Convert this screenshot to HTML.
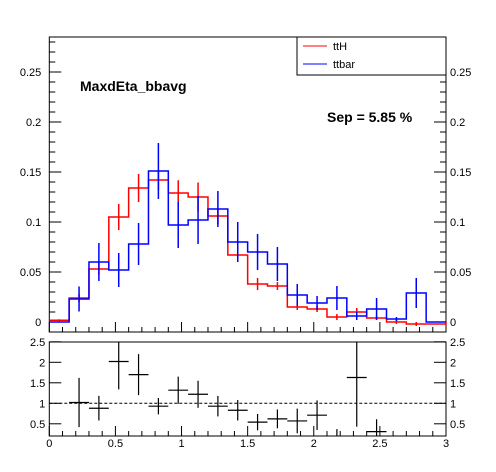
<!DOCTYPE html>
<html><head><meta charset="utf-8"><style>
body{margin:0;background:#fff;}
svg{display:block;font-family:"Liberation Sans",Arial,sans-serif;}
</style></head><body>
<svg id="c" width="496" height="472"></svg>
<script>
const binEdges0 = 0, binWidth = 0.15;
const ttH = [0.0017,0.024,0.053,0.105,0.134,0.142,0.129,0.125,0.106,0.067,0.038,0.036,0.015,0.013,0.005,0.010,0.004,0.0,-0.002,-0.002];
const ttHErr = [0.001,0.004,0.006,0.013,0.014,0.01,0.0127,0.0145,0.008,0.006,0.006,0.004,0.003,0.003,0.003,0.004,0.002,0.002,0.002,0];
const ttbar = [0.0,0.023,0.060,0.052,0.078,0.151,0.097,0.102,0.113,0.080,0.070,0.058,0.027,0.019,0.024,0.006,0.013,0.003,0.029,0.0];
const ttbarErr = [0,0.0125,0.019,0.017,0.021,0.028,0.023,0.024,0.018,0.02,0.018,0.017,0.011,0.007,0.012,0.004,0.011,0.002,0.015,0];
const ratio = [null,1.02,0.88,2.02,1.70,0.93,1.32,1.22,0.93,0.83,0.54,0.62,0.57,0.71,0.2,1.63,0.31,null,null,null];
const ratioErr = [0,0.6,0.3,0.68,0.5,0.2,0.33,0.33,0.25,0.25,0.2,0.23,0.3,0.36,0.17,1.2,0.3,0,0,0];
const yTicks = [0,0.05,0.1,0.15,0.2,0.25];
const yTickLabels = ["0","0.05","0.1","0.15","0.2","0.25"];
const rTicks = [0.5,1,1.5,2,2.5];
const rTickLabels = ["0.5","1","1.5","2","2.5"];
const xTicks = [0,0.5,1,1.5,2,2.5,3];
const xTickLabels = ["0","0.5","1","1.5","2","2.5","3"];

const NS="http://www.w3.org/2000/svg", svg=document.getElementById('c');
function mk(t,a,p){const e=document.createElementNS(NS,t);for(const k in a)e.setAttribute(k,a[k]);(p||svg).appendChild(e);return e;}
const X0=49.3,X1=446,YT=37,YB=332,RT=342,RB=436;
const sx=v=>X0+(X1-X0)*v/3;
const sy=v=>322-1000*v;
const ry=v=>403.3-41*(v-1);

let f=mk('rect',{x:X0,y:YT,width:X1-X0,height:YB-YT,fill:'none',stroke:'#000','stroke-width':1});

f=mk('rect',{x:X0,y:RT,width:X1-X0,height:RB-RT,fill:'none',stroke:'#000','stroke-width':1});


for(let v=-0.01;v<=0.285;v+=0.01){const y=sy(v),maj=Math.abs(Math.round(v*100)%5)===0;const l=maj?12:6;
 mk('line',{x1:X0,x2:X0+l,y1:y,y2:y,stroke:'#000'});mk('line',{x1:X1,x2:X1-l,y1:y,y2:y,stroke:'#000'});}
yTicks.forEach((v,i)=>{let t=mk('text',{x:X0-8,y:sy(v)+4,'font-size':11,'text-anchor':'end'});t.textContent=yTickLabels[i];
 
 t=mk('text',{x:X1+4,y:sy(v)+4,'font-size':11});t.textContent=yTickLabels[i];
 });
for(let i=0;i<=30;i++){const v=i/10,x=sx(v),maj=i%5===0,l=maj?10:5;
 mk('line',{x1:x,x2:x,y1:YB,y2:YB-l,stroke:'#000'});mk('line',{x1:x,x2:x,y1:RB,y2:RB-l,stroke:'#000'});}
xTicks.forEach((v,i)=>{const t=mk('text',{x:sx(v),y:RB+11,'font-size':11,'text-anchor':'middle'});t.textContent=xTickLabels[i];
 });
for(let v=0.3;v<=2.5001;v+=0.1){const y=ry(v),maj=Math.abs(Math.round(v*10)%5)===0;if(!maj)continue;
 mk('line',{x1:X0,x2:X0+12,y1:y,y2:y,stroke:'#000'});mk('line',{x1:X1,x2:X1-12,y1:y,y2:y,stroke:'#000'});}
rTicks.forEach((v,i)=>{let t=mk('text',{x:X0-4,y:ry(v)+4,'font-size':11,'text-anchor':'end'});t.textContent=rTickLabels[i];
 
 t=mk('text',{x:X1+4,y:ry(v)+4,'font-size':11});t.textContent=rTickLabels[i];
 });

function hist(vals,errs,col,name){
 let d='';vals.forEach((v,i)=>{const xa=sx(i*binWidth),xb=sx((i+1)*binWidth),y=sy(v);d+=(i?'L':'M')+xa+','+y+'L'+xb+','+y;});
 d+='L'+sx(3)+','+sy(0);
 const p=mk('path',{d:d,fill:'none',stroke:col,'stroke-width':1.5});
 
 vals.forEach((v,i)=>{if(!errs[i])return;const xc=sx((i+0.5)*binWidth);
  const e=mk('line',{x1:xc,x2:xc,y1:sy(v-errs[i]),y2:sy(v+errs[i]),stroke:col,'stroke-width':1.5});
  });
}
hist(ttH,ttHErr,'#f00','tth');
hist(ttbar,ttbarErr,'#00f','ttbar');

const cp=mk('clipPath',{id:'rc'});mk('rect',{x:X0,y:RT,width:X1-X0,height:RB-RT},cp);
const g=mk('g',{'clip-path':'url(#rc)'});
const dl=mk('line',{x1:X0,x2:X1,y1:ry(1),y2:ry(1),stroke:'#000','stroke-dasharray':'3,2'});

ratio.forEach((v,i)=>{if(v===null)return;const xa=sx(i*binWidth),xb=sx((i+1)*binWidth),xc=(xa+xb)/2;
 const h=mk('line',{x1:xa,x2:xb,y1:ry(v),y2:ry(v),stroke:'#000','stroke-width':1.2},g);
 
 const e=mk('line',{x1:xc,x2:xc,y1:ry(v-ratioErr[i]),y2:ry(v+ratioErr[i]),stroke:'#000','stroke-width':1.2},g);
 });

const lg=mk('g',{});
mk('rect',{x:297,y:37,width:149,height:38,fill:'#fff',stroke:'#000'},lg);
mk('line',{x1:303,x2:327,y1:46,y2:46,stroke:'#f00','stroke-width':1},lg);
let t=mk('text',{x:333,y:50,'font-size':11},lg);t.textContent='ttH';

mk('line',{x1:303,x2:327,y1:64,y2:64,stroke:'#00f','stroke-width':1},lg);
t=mk('text',{x:333,y:68,'font-size':11},lg);t.textContent='ttbar';


t=mk('text',{x:80,y:91,'font-size':14,'font-weight':'bold'});t.textContent='MaxdEta_bbavg';

t=mk('text',{x:327,y:122,'font-size':14,'font-weight':'bold'});t.textContent='Sep = 5.85 %';

</script>
</body></html>
